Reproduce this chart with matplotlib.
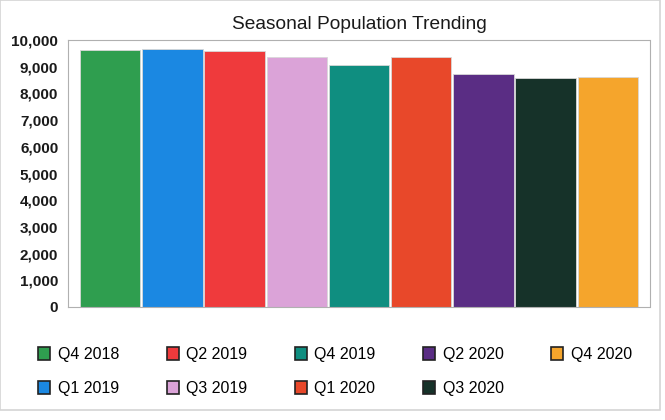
import matplotlib.pyplot as plt
from matplotlib.patches import Rectangle

plt.rcParams['font.family'] = ['Liberation Sans', 'DejaVu Sans']

quarters = ['Q4 2018', 'Q1 2019', 'Q2 2019', 'Q3 2019', 'Q4 2019',
            'Q1 2020', 'Q2 2020', 'Q3 2020', 'Q4 2020']
population = [9620, 9660, 9580, 9360, 9050, 9380, 8730, 8590, 8600]
colors = ['#2f9e4f', '#1b88e2', '#ef3a3c', '#dba3d8', '#0f8e80',
          '#e8482a', '#5a2d84', '#163229', '#f5a52c']
y_ticks = list(range(0, 10001, 1000))

fig = plt.figure(figsize=(6.65, 4.2), dpi=100)
ax = fig.add_axes([68 / 665, 1 - 307 / 420, 582 / 665, 267 / 420])

bars = []
for i, (q, v, c) in enumerate(zip(quarters, population, colors)):
    b = ax.bar(i, v, width=0.97, color=c, edgecolor='#d8d8d8',
               linewidth=0.6, label=q)
    bars.append(b)

ax.set_xlim(-0.68, len(quarters) - 0.32)
ax.set_ylim(0, 10000)
ax.set_yticks(y_ticks)
ax.set_yticklabels([f'{t:,}' for t in y_ticks], fontsize=11, fontweight='bold',
                   color='#1a1a1a')
ax.tick_params(axis='y', length=0, pad=7)
ax.set_xticks([])
for s in ax.spines.values():
    s.set_color('#b0b0b0')
    s.set_linestyle((0, (1, 1)))
    s.set_linewidth(0.8)

ax.set_title('Seasonal Population Trending', fontsize=13.8, pad=8,
             color='#1a1a1a')

leg = fig.legend(handles=[b[0] for b in bars], labels=quarters, ncol=5,
                 loc='upper left', bbox_to_anchor=(32 / 665, 1 - 341 / 420),
                 frameon=False, fontsize=11.5, handlelength=0.75,
                 handleheight=0.85, handletextpad=0.45, columnspacing=3.0,
                 labelspacing=1.15, borderaxespad=0)
for h in leg.legend_handles:
    h.set_edgecolor('#222222')
    h.set_linewidth(1.2)

# light outline of the chart area
fig.patches.append(Rectangle((0.0, 1 - 410 / 420), 660 / 665, 410 / 420,
                             transform=fig.transFigure, fill=False,
                             edgecolor='#d4d4d4', linewidth=1.2))

fig.savefig('out.png', dpi=100)
